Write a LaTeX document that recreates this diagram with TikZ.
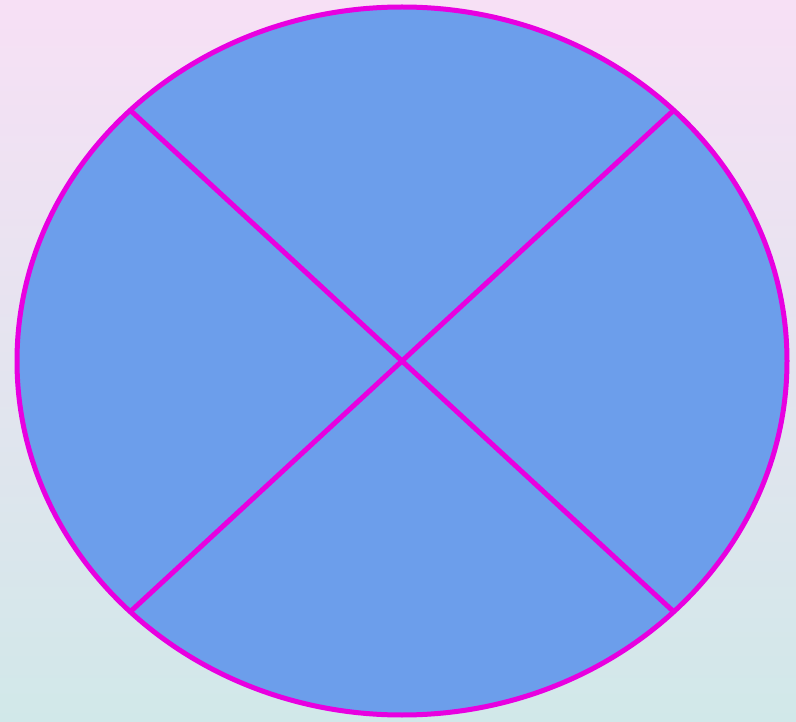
\documentclass[tikz,border=0pt]{standalone}
\definecolor{bgtop}{HTML}{F7E0F5}
\definecolor{bgmid}{HTML}{F1F1F1}
\definecolor{bgbot}{HTML}{D1E8E9}
\definecolor{fillblue}{HTML}{6C9EEB}
\definecolor{mag}{HTML}{E800E0}
\tikzset{outline/.style={draw=mag,line width=5pt}}
\begin{document}
\begin{tikzpicture}[x=1pt,y=-1pt]
\shade[top color=bgtop,middle color=bgmid,bottom color=bgbot] (0,0) rectangle (796,722);
\useasboundingbox (0,0) rectangle (796,722);
\draw[outline,fill=fillblue] (402,361) ellipse [x radius=385,y radius=354];
\coordinate (tl) at (130,110);
\coordinate (tr) at (674,110);
\coordinate (bl) at (130,612);
\coordinate (br) at (674,612);
\draw[outline] (tl) -- (br);
\draw[outline] (tr) -- (bl);
\end{tikzpicture}
\end{document}
